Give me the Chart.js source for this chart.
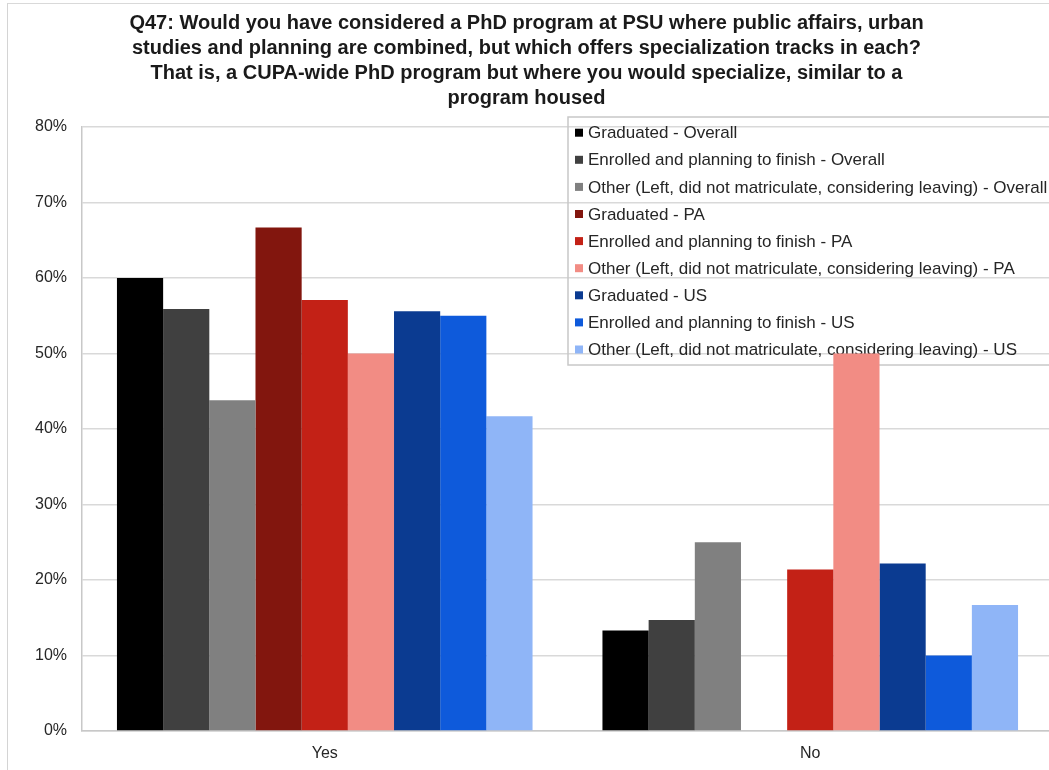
<!DOCTYPE html>
<html>
<head>
<meta charset="utf-8">
<script src="https://cdn.jsdelivr.net/npm/chart.js@4/dist/chart.umd.min.js"></script>
<style>
  html, body { margin: 0; padding: 0; background: #ffffff; overflow: hidden; width: 1049px; height: 770px; }
  #frame { position: absolute; left: 0; top: 0; width: 1049px; height: 770px; overflow: hidden; }
  #border { position: absolute; left: 7px; top: 3px; width: 1100px; height: 800px; border-left: 1.5px solid #d4d4d4; border-top: 1.5px solid #d9d9d9; pointer-events: none; }
  canvas { position: absolute; left: 0; top: 0; }
</style>
</head>
<body>
<div id="frame">
  <canvas id="c" width="1072" height="770"></canvas>
  <div id="border"></div>
</div>
<script>
const titleLines = [
  "Q47: Would you have considered a PhD program at PSU where public affairs, urban",
  "studies and planning are combined, but which offers specialization tracks in each?",
  "That is, a CUPA-wide PhD program but where you would specialize, similar to a",
  "program housed"
];
const categories = ["Yes", "No"];
const seriesNames = [
  "Graduated - Overall",
  "Enrolled and planning to finish - Overall",
  "Other (Left, did not matriculate, considering leaving) - Overall",
  "Graduated - PA",
  "Enrolled and planning to finish - PA",
  "Other (Left, did not matriculate, considering leaving) - PA",
  "Graduated - US",
  "Enrolled and planning to finish - US",
  "Other (Left, did not matriculate, considering leaving) - US"
];
const graduatedOverall = [60.0, 13.3];
const enrolledOverall  = [55.9, 14.7];
const otherOverall     = [43.8, 25.0];
const graduatedPA      = [66.7, null];
const enrolledPA       = [57.1, 21.4];
const otherPA          = [50.0, 50.0];
const graduatedUS      = [55.6, 22.2];
const enrolledUS       = [55.0, 10.0];
const otherUS          = [41.7, 16.7];
const yTicks = [0, 10, 20, 30, 40, 50, 60, 70, 80];

const seriesValues = [graduatedOverall, enrolledOverall, otherOverall, graduatedPA, enrolledPA, otherPA, graduatedUS, enrolledUS, otherUS];
const colors = ["#000000", "#404040", "#808080", "#82160e", "#c32116", "#f28c84", "#0b3b91", "#0e5adb", "#8fb5f7"];

const FONT = "'Liberation Sans', Arial, sans-serif";

const legendBox = {
  id: 'legendBox',
  beforeDatasetsDraw(chart) {
    const ctx = chart.ctx;
    ctx.save();
    ctx.strokeStyle = '#c8c8c8';
    ctx.lineWidth = 1.5;
    ctx.strokeRect(568, 117, 520, 248);
    ctx.font = "17px " + FONT;
    ctx.textBaseline = 'middle';
    ctx.textAlign = 'left';
    chart.data.datasets.forEach((ds, i) => {
      const y = 132.7 + i * 27.1;
      ctx.fillStyle = ds.backgroundColor;
      ctx.fillRect(575, y - 4, 8, 8);
      ctx.fillStyle = '#262626';
      ctx.fillText(ds.label, 588, y + 1);
    });
    ctx.restore();
  }
};

new Chart(document.getElementById('c'), {
  type: 'bar',
  data: {
    labels: categories,
    datasets: seriesNames.map((name, i) => ({
      label: name,
      data: seriesValues[i],
      backgroundColor: colors[i],
      borderWidth: 0,
      barPercentage: 1.0,
      categoryPercentage: 0.856
    }))
  },
  options: {
    responsive: false,
    animation: false,
    devicePixelRatio: 1,
    layout: { padding: { left: 0, right: 19, top: 0, bottom: 0 } },
    plugins: {
      legend: { display: false },
      tooltip: { enabled: false },
      title: {
        display: true,
        text: titleLines,
        color: '#1a1a1a',
        font: { family: FONT, size: 20, weight: 'bold', lineHeight: 1.25 },
        padding: { top: 10.5, bottom: 16.5 }
      }
    },
    scales: {
      x: {
        grid: { display: false, drawTicks: false },
        border: { display: true, color: '#c8c8c8', width: 1.5 },
        ticks: { color: '#262626', font: { family: FONT, size: 16 }, padding: 13 },
        afterFit(scale) { scale.height = 39; }
      },
      y: {
        min: 0,
        max: 80,
        afterBuildTicks(scale) { scale.ticks = yTicks.map(v => ({ value: v })); },
        grid: { color: '#d9d9d9', lineWidth: 1.5, drawTicks: false },
        border: { display: true, color: '#c8c8c8', width: 1.5 },
        ticks: {
          color: '#262626',
          font: { family: FONT, size: 16 },
          padding: 15,
          callback: v => v + '%'
        },
        afterFit(scale) { scale.width = 82; }
      }
    }
  },
  plugins: [legendBox]
});
</script>
</body>
</html>
